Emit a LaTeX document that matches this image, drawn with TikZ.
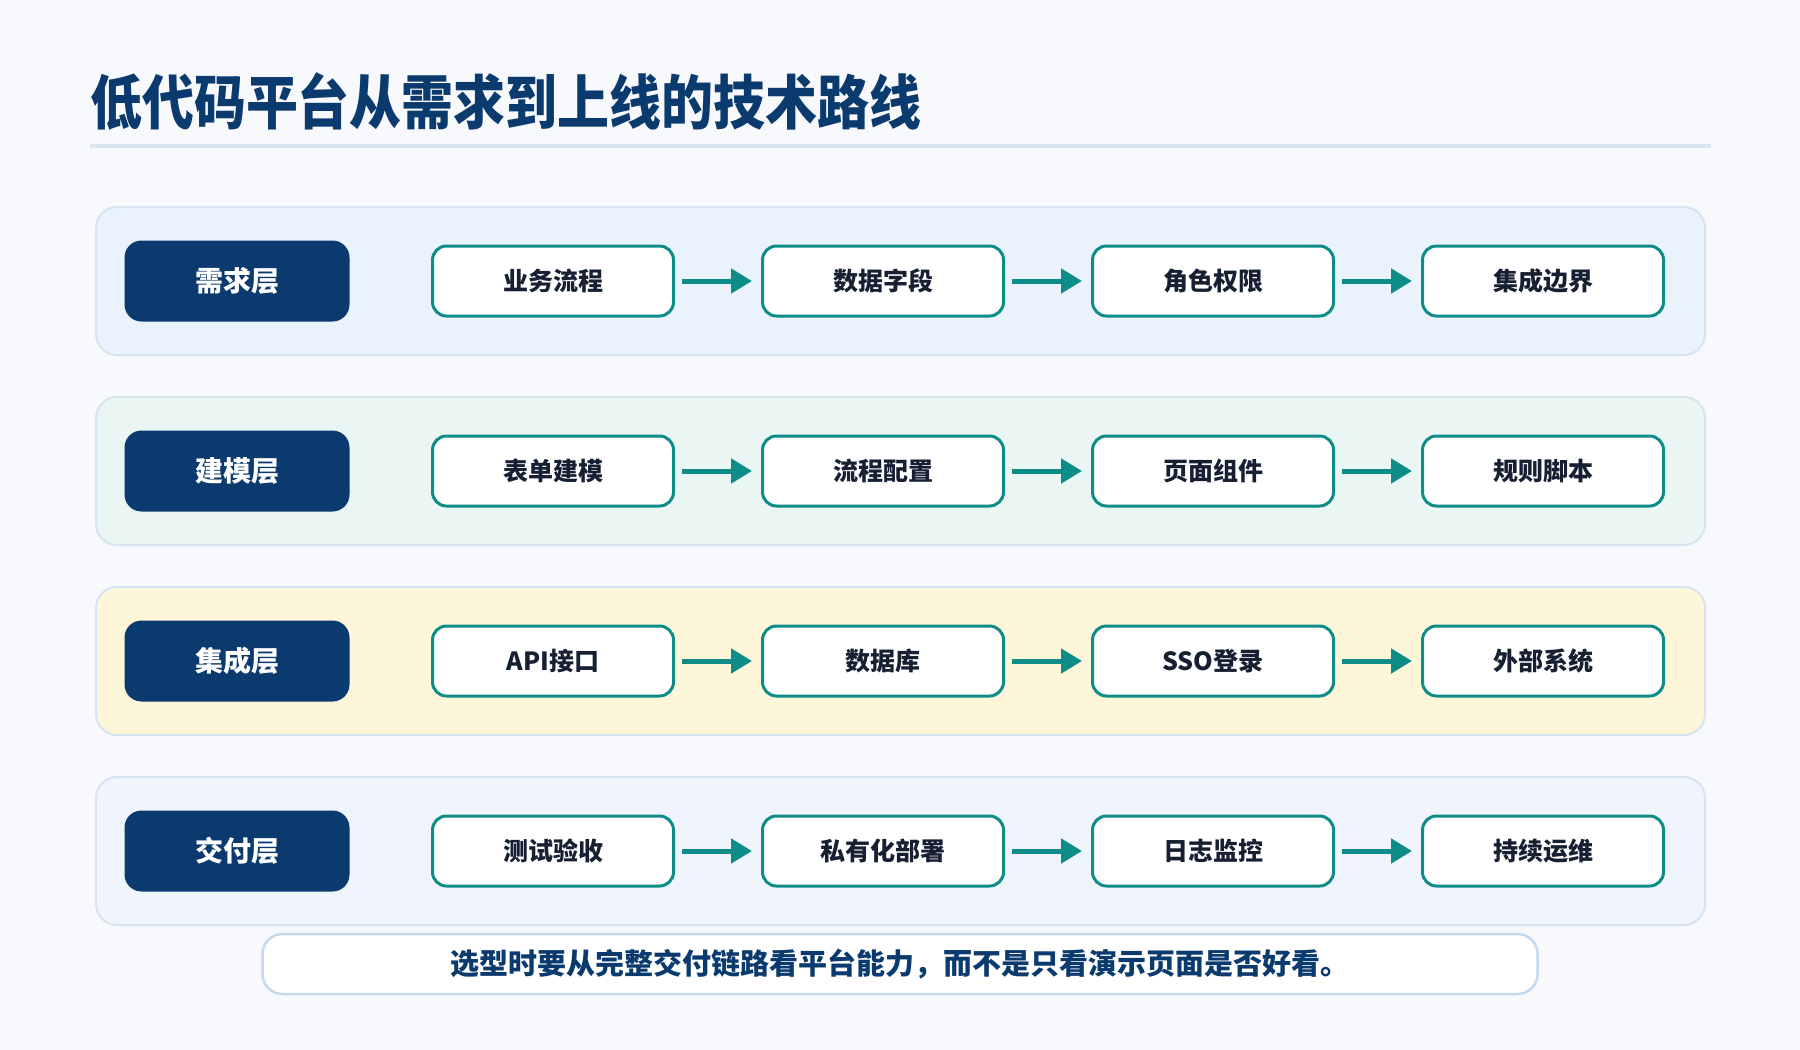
\documentclass[tikz,border=0pt]{standalone}
\usepackage{fontspec}
\setmainfont{Noto Sans CJK SC}
\usetikzlibrary{positioning, arrows.meta}
\definecolor{bg}{HTML}{F7F9FC}
\definecolor{navy}{HTML}{0B3A6E}
\definecolor{tealc}{HTML}{0E8C87}
\definecolor{ink}{HTML}{172033}
\definecolor{rule}{HTML}{DAE5F2}
\definecolor{bandline}{HTML}{D6E3F1}
\definecolor{noteline}{HTML}{C4D8EE}
\definecolor{b1}{HTML}{EAF3FD}
\definecolor{b2}{HTML}{E9F6F4}
\definecolor{b3}{HTML}{FEF6D8}
\definecolor{b4}{HTML}{EFF4FD}

\begin{document}
\begin{tikzpicture}[x=1pt,y=-1pt,
    band/.style={draw=bandline, line width=2pt, rounded corners=21pt},
    layer/.style={fill=navy, rounded corners=17pt, minimum width=225pt, minimum height=81pt,
        text=white, font=\bfseries\fontsize{28}{28}\selectfont},
    stepbox/.style={draw=tealc, line width=3pt, fill=white, rounded corners=14pt,
        minimum width=241pt, minimum height=70pt, text=ink, font=\bfseries\fontsize{25}{25}\selectfont},
    flow/.style={-{Triangle[length=21pt,width=24pt]}, draw=tealc, fill=tealc, line width=5pt,
        shorten <=7pt, shorten >=9pt},
    notebox/.style={draw=noteline, line width=2.5pt, fill=white, rounded corners=20pt,
        minimum width=1275pt, minimum height=60pt, text=navy, font=\bfseries\fontsize{29}{29}\selectfont}
  ]
    \fill[bg](0,0)rectangle(1800,1050);%背景
    \useasboundingbox(0,0)rectangle(1800,1050);

    \node[anchor=west, inner sep=0pt, text=navy, font=\bfseries\fontsize{59}{59}\selectfont](title)at(90,102)
        {\resizebox{831pt}{\height}{低代码平台从需求到上线的技术路线}};%見出し
    \coordinate(r1)at(90,146);\coordinate(r2)at(1711,146);
    \draw[rule, line width=4pt](r1)--(r2);

    \foreach\i/\name/\fc/\a/\b/\c/\d in{%
        1/需求层/b1/业务流程/数据字段/角色权限/集成边界,
        2/建模层/b2/表单建模/流程配置/页面组件/规则脚本,
        3/集成层/b3/API接口/数据库/SSO登录/外部系统,
        4/交付层/b4/测试验收/私有化部署/日志监控/持续运维}{
        \pgfmathsetmacro\y{281+190*(\i-1)}
        \draw[band, fill=\fc](96,\y-74)rectangle(1705,\y+74);%帯
        \node[layer](l\i)at(237,\y){\name};
        \node[stepbox](s\i1)at(553,\y){\a};
        \node[stepbox, right=86pt of s\i1](s\i2){\b};
        \node[stepbox, right=86pt of s\i2](s\i3){\c};
        \node[stepbox, right=86pt of s\i3](s\i4){\d};
        \foreach\j/\k in{1/2,2/3,3/4}\draw[flow](s\i\j)--(s\i\k);
    }

    \node[notebox](note)at(900,964){选型时要从完整交付链路看平台能力，而不是只看演示页面是否好看。};%結論
\end{tikzpicture}
\end{document}
